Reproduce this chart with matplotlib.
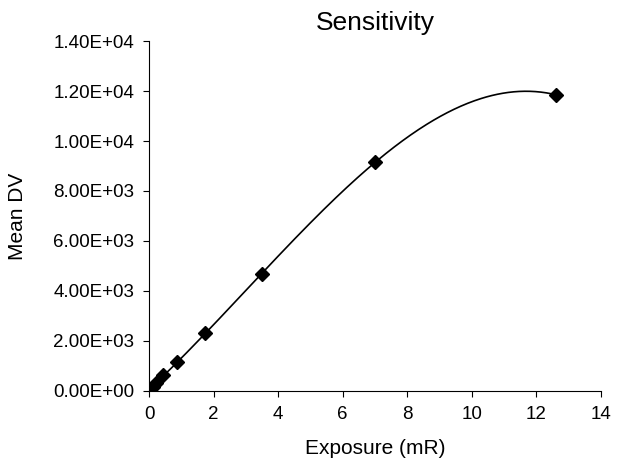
import numpy as np
import matplotlib.pyplot as plt

plt.rcParams['font.family'] = ['Liberation Sans', 'DejaVu Sans']

# exposure (mR) and mean digital value
exposure = [0.03, 0.11, 0.22, 0.44, 0.87, 1.75, 3.5, 7.0, 12.6]
mean_dv = [60, 170, 330, 620, 1150, 2330, 4680, 9150, 11850]

x_ticks = [0, 2, 4, 6, 8, 10, 12, 14]
y_ticks = [0, 2000, 4000, 6000, 8000, 10000, 12000, 14000]

# 3rd order polynomial trendline through the points
coef = np.polyfit(exposure, mean_dv, 3)
xs = np.linspace(exposure[0], exposure[-1], 300)
ys = np.polyval(coef, xs)

fig = plt.figure(figsize=(6.17, 4.61), dpi=100)
ax = fig.add_axes([0.2415, 0.152, 0.7325, 0.759])

ax.plot(xs, ys, color='black', lw=1.2)
ax.plot(exposure, mean_dv, 'D', color='black', ms=7.5, ls='none')

ax.set_xlim(0, 14)
ax.set_ylim(0, 14000)
ax.set_xticks(x_ticks)
ax.set_yticks(y_ticks)
ax.set_yticklabels(['%.2E' % v for v in y_ticks])
ax.spines['top'].set_visible(False)
ax.spines['right'].set_visible(False)
ax.tick_params(direction='out', length=4.5, labelsize=13.5, pad=6)
ax.set_xlabel('Exposure (mR)', fontsize=15)
ax.set_ylabel('Mean DV', fontsize=15)
ax.xaxis.set_label_coords(0.5, -0.137)
ax.yaxis.set_label_coords(-0.27, 0.5)
ax.set_title('Sensitivity', fontsize=19, y=1.031, pad=0)

plt.savefig('out.png', dpi=100)
